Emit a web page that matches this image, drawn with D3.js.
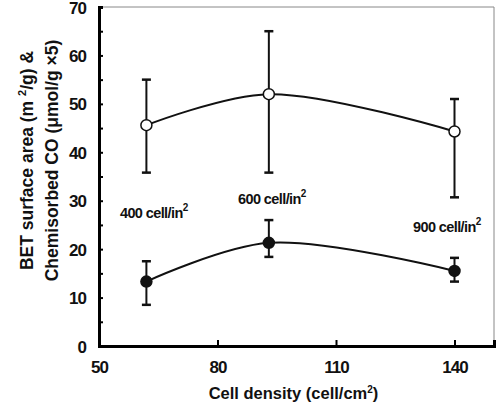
<!DOCTYPE html>
<html>
<head>
<meta charset="utf-8">
<script src="https://d3js.org/d3.v7.min.js"></script>
<style>
  body { margin: 0; background: #fff; }
  text { font-family: "Liberation Sans", Arial, sans-serif; font-weight: bold; fill: #111; }
</style>
</head>
<body>
<div id="chart"></div>
<script>
// cell densities (cell/cm2) and their cell/in2 labels
var density = [62, 93, 140]
var cellLabels = ["400", "600", "900"]

// BET surface area (open circles)
var bet = [45.6, 52.0, 44.3]
var betLow = [35.8, 35.8, 30.7]
var betHigh = [55, 65, 51]

// chemisorbed CO x5 (filled circles)
var co = [13.3, 21.3, 15.5]
var coLow = [8.5, 18.4, 13.3]
var coHigh = [17.5, 26, 18.2]

var xTicks = [50, 80, 110, 140]
var yTicks = [0, 10, 20, 30, 40, 50, 60, 70]

var margin = {top: 7, right: 7, bottom: 64, left: 99},
    width = 501 - margin.left - margin.right,
    height = 410 - margin.top - margin.bottom

var svg = d3.select("#chart")
  .append("svg")
    .attr("width", 501)
    .attr("height", 410)
  .append("g")
    .attr("transform", "translate(" + margin.left + "," + margin.top + ")")

var x = d3.scaleLinear().domain([50, 150]).range([0, width])
var y = d3.scaleLinear().domain([0, 70]).range([height, 0])

// thin frame on top and right
svg.append("line").attr("x1", 0).attr("x2", width).attr("y1", 0).attr("y2", 0)
  .attr("stroke", "#888").attr("stroke-width", 1)
svg.append("line").attr("x1", width).attr("x2", width).attr("y1", 0).attr("y2", height)
  .attr("stroke", "#888").attr("stroke-width", 1)

// axes with inward ticks
var yAxis = svg.append("g")
  .call(d3.axisLeft(y).tickValues(d3.range(0, 71, 5)).tickSize(-4).tickPadding(13)
    .tickFormat(function (d) { return yTicks.indexOf(d) >= 0 ? d : "" }))
yAxis.select(".domain").attr("stroke-width", 3)
yAxis.selectAll("line").attr("stroke-width", 2)
yAxis.selectAll("text").style("font-size", "17px").style("letter-spacing", "-1px").attr("dy", "0.36em")

var xAxis = svg.append("g")
  .attr("transform", "translate(0," + height + ")")
  .call(d3.axisBottom(x).tickValues(xTicks).tickSize(-6).tickPadding(14))
xAxis.select(".domain").attr("stroke-width", 3)
xAxis.selectAll("line").attr("stroke-width", 2)
xAxis.selectAll("text").style("font-size", "17px").style("letter-spacing", "-1px").attr("dy", "0.75em")

// axis titles
svg.append("text")
  .attr("x", width / 2 - 3)
  .attr("y", height + 53)
  .attr("text-anchor", "middle")
  .style("font-size", "16.5px")
  .html("Cell density (cell/cm<tspan dy='-6' font-size='10px'>2</tspan><tspan dy='6'>)</tspan>")

var yTitle = svg.append("g")
  .attr("transform", "translate(-66," + (height / 2 - 16) + ") rotate(-90)")
yTitle.append("text")
  .attr("text-anchor", "middle")
  .style("font-size", "17.5px")
  .html("BET surface area (m <tspan dy='-7' font-size='11px'>2</tspan><tspan dy='7'>/g) &amp;</tspan>")
yTitle.append("text")
  .attr("y", 25)
  .attr("text-anchor", "middle")
  .style("font-size", "17.5px")
  .text("Chemisorbed CO (\u03bcmol/g \u00d75)")

function drawSeries(vals, low, high, fill) {
  var pts = density.map(function (d, i) { return [d, vals[i]] })
  svg.append("path")
    .datum(pts)
    .attr("fill", "none")
    .attr("stroke", "#111")
    .attr("stroke-width", 2)
    .attr("d", d3.line()
      .x(function (d) { return x(d[0]) })
      .y(function (d) { return y(d[1]) })
      .curve(d3.curveCatmullRom.alpha(0.5)))

  density.forEach(function (d, i) {
    var cx = x(d)
    svg.append("line").attr("x1", cx).attr("x2", cx)
      .attr("y1", y(low[i])).attr("y2", y(high[i]))
      .attr("stroke", "#111").attr("stroke-width", 2)
    ;[low[i], high[i]].forEach(function (v) {
      svg.append("line").attr("x1", cx - 4.5).attr("x2", cx + 4.5)
        .attr("y1", y(v)).attr("y2", y(v))
        .attr("stroke", "#111").attr("stroke-width", 2.5)
    })
    svg.append("circle")
      .attr("cx", cx).attr("cy", y(vals[i])).attr("r", 5.5)
      .attr("fill", fill).attr("stroke", "#111").attr("stroke-width", 1.5)
  })
}

drawSeries(bet, betLow, betHigh, "#fff")
drawSeries(co, coLow, coHigh, "#111")

// cell/in2 annotations
var labelPos = [[55.3, 26.4], [85.2, 29.3], [129.5, 23.5]]
cellLabels.forEach(function (c, i) {
  svg.append("text")
    .attr("x", x(labelPos[i][0]))
    .attr("y", y(labelPos[i][1]))
    .style("font-size", "14.5px")
    .style("letter-spacing", "-0.6px")
    .html(c + " cell/in<tspan dy='-7' font-size='10px'>2</tspan>")
})
</script>
</body>
</html>
